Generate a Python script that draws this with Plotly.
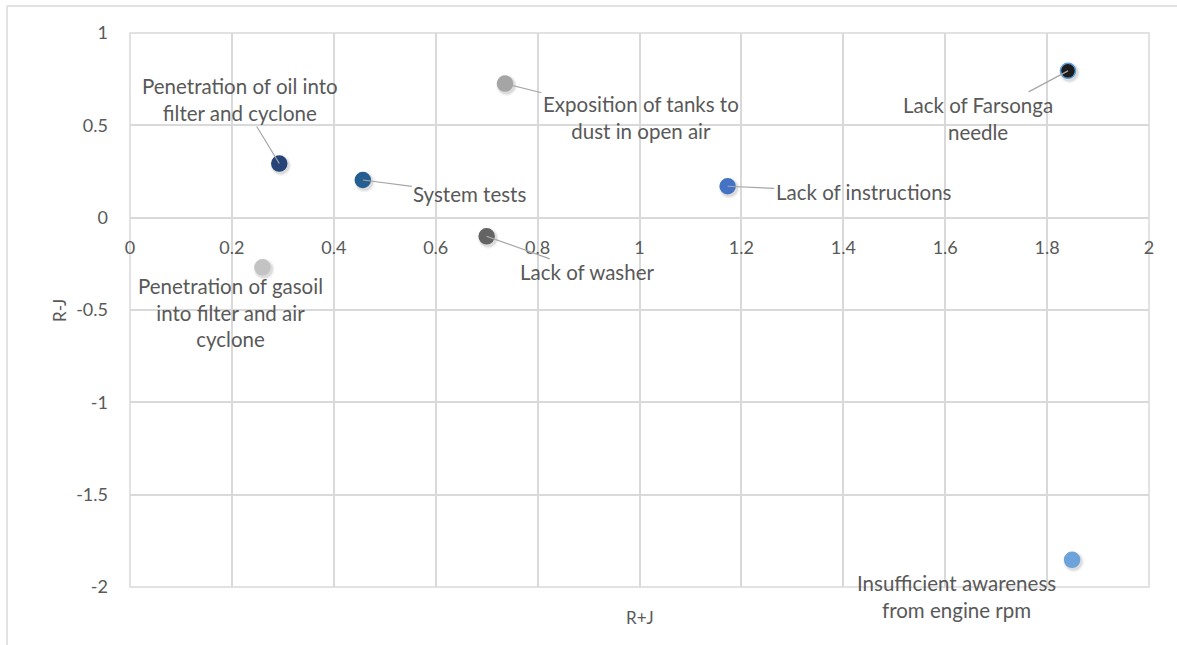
import plotly.graph_objects as go

# Risk factors: R+J on x, R-J on y
labels = [
    "Penetration of oil into<br>filter and cyclone",
    "System tests",
    "Penetration of gasoil<br>into filter and air<br>cyclone",
    "Lack of washer",
    "Exposition of tanks to<br>dust in open air",
    "Lack of instructions",
    "Lack of Farsonga<br>needle",
    "Insufficient awareness<br>from engine rpm",
]
r_plus_j = [0.293, 0.457, 0.260, 0.700, 0.736, 1.173, 1.841, 1.849]
r_minus_j = [0.293, 0.204, -0.269, -0.101, 0.726, 0.170, 0.795, -1.853]

colors = ["#264478", "#255E91", "#C3C3C3", "#636363", "#A5A5A5", "#4472C4", "#1C1C1C", "#6CA3DB"]
outlines = ["#264478", "#255E91", "#C3C3C3", "#636363", "#A5A5A5", "#4472C4", "#5B9BD5", "#6CA3DB"]

# label placement: (pixel offset x, pixel offset y, draw leader line)
placement = [
    (-39, -64, True),
    (107, 14, True),
    (-32, 45, False),
    (101, 36, True),
    (136, 34, True),
    (136, 6, True),
    (-90, 48, True),
    (-116, 37, False),
]

x_ticks = [0, 0.2, 0.4, 0.6, 0.8, 1, 1.2, 1.4, 1.6, 1.8, 2]
x_tick_text = ["0", "0.2", "0.4", "0.6", "0.8", "1", "1.2", "1.4", "1.6", "1.8", "2"]
y_ticks = [1, 0.5, 0, -0.5, -1, -1.5, -2]
y_tick_text = ["1", "0.5", "0", "-0.5", "-1", "-1.5", "-2"]

FONT = "Lato"
TEXT = "#595959"
GRID = "#D9D9D9"
LABEL_SIZE = 20.5
TICK_SIZE = 18

fig = go.Figure()

# soft drop shadow under each marker
for spread, alpha in [(21, 0.05), (18, 0.09)]:
    fig.add_trace(go.Scatter(
        x=[v + 0.003 for v in r_plus_j],
        y=[v - 0.010 for v in r_minus_j],
        mode="markers",
        marker=dict(size=spread, color=f"rgba(0,0,0,{alpha})", line=dict(width=0)),
        hoverinfo="skip",
        showlegend=False,
    ))

for i in range(len(labels)):
    fig.add_trace(go.Scatter(
        x=[r_plus_j[i]],
        y=[r_minus_j[i]],
        mode="markers",
        marker=dict(size=15, color=colors[i], line=dict(color=outlines[i], width=1.5)),
        name=labels[i].replace("<br>", " "),
        showlegend=False,
    ))

for i, lab in enumerate(labels):
    dx, dy, line = placement[i]
    if line:
        fig.add_annotation(
            x=r_plus_j[i], y=r_minus_j[i], text=lab,
            showarrow=True, ax=dx, ay=dy, arrowhead=0, arrowwidth=1.2,
            arrowcolor="#A6A6A6", standoff=0, startstandoff=0,
            align="center", font=dict(family=FONT, size=LABEL_SIZE, color=TEXT),
        )
    else:
        fig.add_annotation(
            x=r_plus_j[i], y=r_minus_j[i], text=lab, showarrow=False,
            xshift=dx, yshift=-dy, align="center",
            font=dict(family=FONT, size=LABEL_SIZE, color=TEXT),
        )

# axis titles
fig.add_annotation(x=0.5, y=-0.032, xref="paper", yref="paper", text="R+J",
                   showarrow=False, yanchor="top",
                   font=dict(family=FONT, size=17, color=TEXT))
fig.add_annotation(x=-0.082, y=0.5, xref="paper", yref="paper", text="R-J",
                   showarrow=False, textangle=-90,
                   font=dict(family=FONT, size=17, color=TEXT))

# outer frame (top and left edges) and plot border
fig.add_shape(type="line", xref="paper", yref="paper", x0=-0.1207, x1=1.03, y0=1.0487, y1=1.0487,
              line=dict(color=GRID, width=1.5))
fig.add_shape(type="line", xref="paper", yref="paper", x0=-0.1207, x1=-0.1207, y0=-0.12, y1=1.0487,
              line=dict(color=GRID, width=1.5))
fig.add_shape(type="rect", xref="paper", yref="paper", x0=0, x1=1, y0=0, y1=1,
              line=dict(color=GRID, width=1.5), layer="below")

fig.update_layout(
    width=1177, height=645,
    margin=dict(l=130, r=28, t=33, b=58),
    paper_bgcolor="white", plot_bgcolor="white",
    font=dict(family=FONT, color=TEXT),
    xaxis=dict(
        range=[0, 2], tickvals=x_ticks, ticktext=x_tick_text,
        showgrid=True, gridcolor=GRID, gridwidth=1.5, zeroline=False,
        showline=True, linecolor=GRID, linewidth=1.5,
        anchor="free", position=2 / 3,
        ticks="", ticklabelstandoff=14,
        tickfont=dict(family=FONT, size=TICK_SIZE, color=TEXT),
    ),
    yaxis=dict(
        range=[-2, 1], tickvals=y_ticks, ticktext=y_tick_text,
        showgrid=True, gridcolor=GRID, gridwidth=1.5, zeroline=False,
        ticks="", ticklabelstandoff=21,
        tickfont=dict(family=FONT, size=TICK_SIZE, color=TEXT),
    ),
)

fig.write_html("out.html")
